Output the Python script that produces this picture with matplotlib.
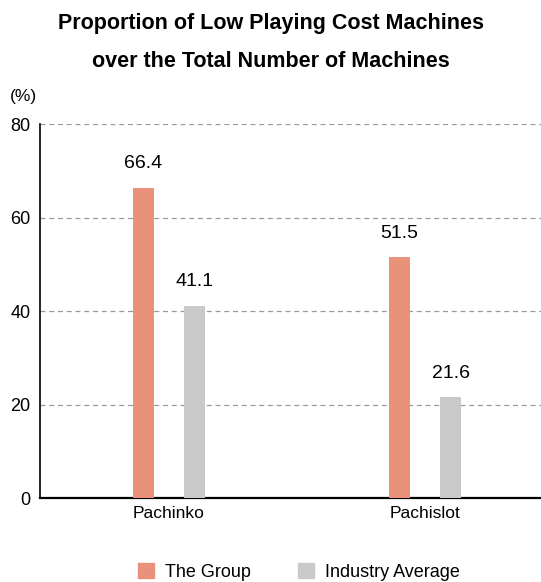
import matplotlib.pyplot as plt
import matplotlib.patches as mpatches
import numpy as np
from matplotlib import font_manager

# font: prefer a narrow sans if available
names = {f.name for f in font_manager.fontManager.ttflist}
fam = 'Liberation Sans Narrow' if 'Liberation Sans Narrow' in names else 'Liberation Sans'
plt.rcParams['font.family'] = [fam, 'DejaVu Sans']

#%% data
categories = ['Pachinko', 'Pachislot']
group_vals = [66.4, 51.5]
industry_vals = [41.1, 21.6]
series_names = ['The Group', 'Industry Average']
yticks = [0, 20, 40, 60, 80]

c_group = '#E9917B'
c_ind = '#C8C9C8'

#%% plot
fig = plt.figure(figsize=(5.41, 5.82), dpi=100)
ax = fig.add_axes([0.0739, 0.1443, 0.9261, 0.6426])

x = np.arange(len(categories))
w = 0.082
off = 0.1
ax.bar(x - off, group_vals, w, color=c_group, zorder=3)
ax.bar(x + off, industry_vals, w, color=c_ind, zorder=3)

for xi, v in zip(x - off, group_vals):
    ax.text(xi, v + 3.3, f'{v:.1f}', ha='center', va='bottom', fontsize=14)
for xi, v in zip(x + off, industry_vals):
    ax.text(xi, v + 3.3, f'{v:.1f}', ha='center', va='bottom', fontsize=14)

ax.set_xlim(-0.504, 1.453)
ax.set_ylim(0, 80)
ax.set_yticks(yticks)
ax.set_yticklabels([str(t) for t in yticks], fontsize=13)
ax.set_xticks(x)
ax.set_xticklabels(categories, fontsize=12.5)
ax.tick_params(length=0, pad=7)
ax.tick_params(axis='x', pad=6)

for t in yticks[1:]:
    ax.axhline(t, color='#9a9a9a', lw=0.9, ls=(0, (4, 3)), zorder=1)

for s in ['top', 'right']:
    ax.spines[s].set_visible(False)
ax.spines['left'].set_linewidth(1.2)
ax.spines['bottom'].set_linewidth(1.6)

fig.text(0.043, 0.835, '(%)', ha='center', va='center', fontsize=12.5)

fig.text(0.5, 0.959, 'Proportion of Low Playing Cost Machines', ha='center',
         va='center', fontsize=15.5, fontweight='bold')
fig.text(0.5, 0.894, 'over the Total Number of Machines', ha='center',
         va='center', fontsize=15.5, fontweight='bold')

handles = [mpatches.Patch(color=c_group, label=series_names[0]),
           mpatches.Patch(color=c_ind, label=series_names[1])]
fig.legend(handles=handles, loc='center', bbox_to_anchor=(0.553, 0.017), ncol=2,
           frameon=False, fontsize=13, handlelength=0.9, handleheight=0.9,
           columnspacing=2.6, handletextpad=0.6)

fig.savefig('out.png', dpi=100)
